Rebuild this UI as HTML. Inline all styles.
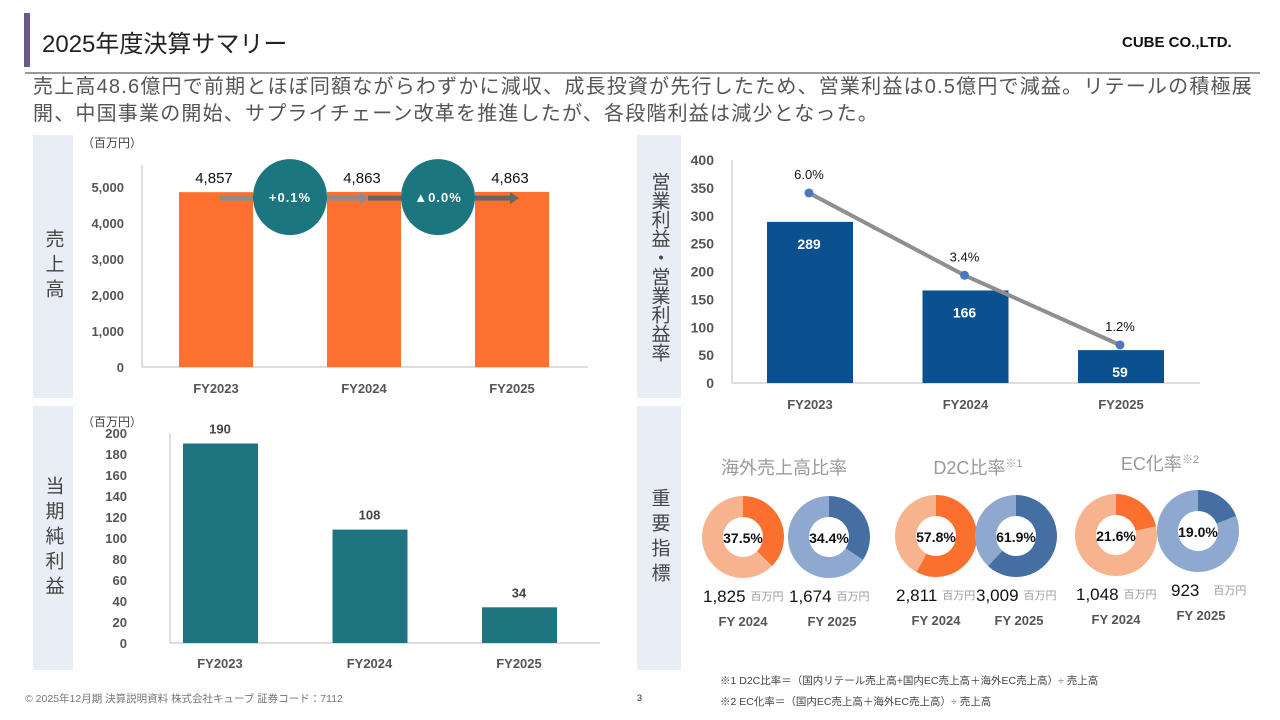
<!DOCTYPE html>
<html><head><meta charset="utf-8">
<style>
body{margin:0;width:1280px;height:720px;overflow:hidden;background:#fff;font-family:"Liberation Sans","Noto Sans CJK JP",sans-serif;position:relative}
.abs{position:absolute}
.side{position:absolute;background:#e9eef6;color:#444;font-size:19px;display:flex;align-items:center;justify-content:center;writing-mode:vertical-rl;letter-spacing:6px}
svg text{font-family:"Liberation Sans","Noto Sans CJK JP",sans-serif}
</style></head><body>
<div class="abs" style="left:24px;top:13px;width:6px;height:54px;background:#6a5a8c"></div>
<div class="abs" style="left:42px;top:24px;font-size:24px;color:#222">2025年度決算サマリー</div>
<div class="abs" style="left:1122px;top:34px;font-size:15px;font-weight:bold;color:#111">CUBE CO.,LTD.</div>
<div class="abs" style="left:25px;top:72px;width:1235px;height:2px;background:#999"></div>
<div class="abs" style="left:33px;top:74px;width:1245px;font-size:20px;letter-spacing:1.2px;line-height:27px;color:#555;white-space:nowrap">売上高48.6億円で前期とほぼ同額ながらわずかに減収、成長投資が先行したため、営業利益は0.5億円で減益。リテールの積極展<br>開、中国事業の開始、サプライチェーン改革を推進したが、各段階利益は減少となった。</div>

<div class="side" style="left:33px;top:135px;width:40px;height:263px">売上高</div>
<div class="side" style="left:33px;top:406px;width:40px;height:264px">当期純利益</div>
<div class="side" style="left:637px;top:135px;width:44px;height:263px;letter-spacing:0">営業利益・営業利益率</div>
<div class="side" style="left:637px;top:406px;width:44px;height:264px">重要指標</div>

<svg id="svg" class="abs" style="left:0;top:0" width="1280" height="720"></svg>

<div class="abs" style="left:720px;top:673px;font-size:10.5px;color:#444">※1 D2C比率＝（国内リテール売上高+国内EC売上高＋海外EC売上高）÷ 売上高</div>
<div class="abs" style="left:720px;top:694px;font-size:10.5px;color:#444">※2 EC化率＝（国内EC売上高＋海外EC売上高）÷ 売上高</div>
<div class="abs" style="left:25px;top:691px;font-size:10.5px;color:#777">© 2025年12月期 決算説明資料 株式会社キューブ 証券コード：7112</div>
<div class="abs" style="left:637px;top:693px;font-size:9px;color:#222">3</div>

<script>
const years = ["FY2023","FY2024","FY2025"];
const salesValues = [4857, 4863, 4863];
const salesTicks = [0,1000,2000,3000,4000,5000];
const salesChange = ["+0.1%","▲0.0%"];
const opValues = [289, 166, 59];
const opRates = [6.0, 3.4, 1.2];
const opTicks = [0,50,100,150,200,250,300,350,400];
const niValues = [190, 108, 34];
const niTicks = [0,20,40,60,80,100,120,140,160,180,200];
const kpiTitles = ["海外売上高比率","D2C比率","EC化率"];
const kpiNotes = ["","※1","※2"];
const kpiPercents = [37.5, 34.4, 57.8, 61.9, 21.6, 19.0];
const kpiAmounts = ["1,825","1,674","2,811","3,009","1,048","923"];
const kpiYears = ["FY 2024","FY 2025","FY 2024","FY 2025","FY 2024","FY 2025"];

const svg = document.getElementById('svg');
const NS = "http://www.w3.org/2000/svg";
function mk(tag, attrs, txt){const e=document.createElementNS(NS,tag);for(const k in attrs)e.setAttribute(k,attrs[k]);if(txt!==undefined)e.textContent=txt;svg.appendChild(e);return e;}
function fmt(v){return v.toLocaleString('en-US');}

// ---- Sales chart
{
 const y0=367, h=180, max=5000; const ys=v=>y0-v/max*h;
 const xc=i=>216+i*148;
 mk('line',{x1:142,y1:165,x2:142,y2:y0,stroke:'#bbb'});
 mk('line',{x1:142,y1:y0,x2:588,y2:y0,stroke:'#bbb'});
 let t=mk('text',{x:82,y:147,'font-size':12,fill:'#444'},'（百万円）');
 
 salesTicks.forEach(v=>{const e=mk('text',{x:124,y:ys(v)+5,'font-size':13,'font-weight':'bold',fill:'#555','text-anchor':'end'},fmt(v));
  });
 salesValues.forEach((v,i)=>{
  const r=mk('rect',{x:xc(i)-37,y:ys(v),width:74,height:y0-ys(v),fill:'#fd7030'});
  
  const l=mk('text',{x:xc(i)-2,y:ys(v)-9,'font-size':15,fill:'#111','text-anchor':'middle'},fmt(v));
  
  const c=mk('text',{x:xc(i),y:393,'font-size':13,'font-weight':'bold',fill:'#555','text-anchor':'middle'},years[i]);
  
 });
 const ay=ys(salesValues[0])+6;
 [[220,360,'#8c8c8c'],[368,510,'#666']].forEach((a,i)=>{
  const ln=mk('line',{x1:a[0],y1:ay,x2:a[1],y2:ay,stroke:a[2],'stroke-width':5});
  
  mk('polygon',{points:`${a[1]},${ay-6} ${a[1]+9},${ay} ${a[1]},${ay+6}`,fill:a[2]});
 });
 salesChange.forEach((s,i)=>{
  const cx=(xc(i)+xc(i+1))/2;
  const c=mk('ellipse',{cx:cx,cy:ay-1,rx:37,ry:38,fill:'#1b7680'});
  
  mk('text',{x:cx,y:ay+4,'font-size':13,'font-weight':'bold',fill:'#fff','text-anchor':'middle','letter-spacing':1},s);
 });
}

// ---- Operating income chart
{
 const y0=383, h=223, max=400, rmax=7.04; const ys=v=>y0-v/max*h; const yr=r=>y0-r/rmax*h;
 const xc=i=>810+i*155.5;
 mk('line',{x1:732,y1:160,x2:732,y2:y0,stroke:'#bbb'});
 mk('line',{x1:732,y1:y0,x2:1200,y2:y0,stroke:'#bbb'});
 opTicks.forEach(v=>{const e=mk('text',{x:714,y:ys(v)+5,'font-size':14,'font-weight':'bold',fill:'#555','text-anchor':'end'},v);
  });
 opValues.forEach((v,i)=>{
  const r=mk('rect',{x:xc(i)-43,y:ys(v),width:86,height:y0-ys(v),fill:'#0b5190'});
  
  const l=mk('text',{x:xc(i)-1,y:ys(v)+27,'font-size':14,'font-weight':'bold',fill:'#fff','text-anchor':'middle'},v);
  
  const c=mk('text',{x:xc(i),y:409,'font-size':13,'font-weight':'bold',fill:'#555','text-anchor':'middle'},years[i]);
  
 });
 const pl=mk('polyline',{points:opRates.map((r,i)=>`${xc(i)-1},${yr(r)}`).join(' '),fill:'none',stroke:'#8f8f8f','stroke-width':4});
 
 opRates.forEach((r,i)=>{
  const p=mk('circle',{cx:xc(i)-1,cy:yr(r),r:4.5,fill:'#4a78bf'});
  
  const l=mk('text',{x:xc(i)-1,y:yr(r)-14,'font-size':13,fill:'#111','text-anchor':'middle'},r.toFixed(1)+'%');
  
 });
}

// ---- Net income chart
{
 const y0=643, h=210, max=200; const ys=v=>y0-v/max*h;
 const xc=i=>220+i*149.5;
 mk('line',{x1:170,y1:433,x2:170,y2:y0,stroke:'#bbb'});
 mk('line',{x1:170,y1:y0,x2:600,y2:y0,stroke:'#bbb'});
 let t=mk('text',{x:82,y:426,'font-size':12,fill:'#444'},'（百万円）');
 
 niTicks.forEach(v=>{const e=mk('text',{x:127,y:ys(v)+5,'font-size':13,'font-weight':'bold',fill:'#555','text-anchor':'end'},v);
  });
 niValues.forEach((v,i)=>{
  const r=mk('rect',{x:xc(i)-37,y:ys(v),width:75,height:y0-ys(v),fill:'#1e7580'});
  
  const l=mk('text',{x:xc(i),y:ys(v)-10,'font-size':13,'font-weight':'bold',fill:'#444','text-anchor':'middle'},v);
  
  const c=mk('text',{x:xc(i),y:668,'font-size':13,'font-weight':'bold',fill:'#555','text-anchor':'middle'},years[i]);
  
 });
}

// ---- KPI donuts
{
 const cxs=[743,829,936,1016,1116,1198];
 const cys=[537,537,536,536,535,531];
 const titleX=[784,978,1160], titleY=[474,474,470];
 kpiTitles.forEach((s,i)=>{
  const t=mk('text',{x:titleX[i],y:titleY[i],'font-size':18,fill:'#999','text-anchor':'middle'},s);
  
  if(kpiNotes[i]){const ts=document.createElementNS(NS,'tspan');ts.setAttribute('font-size',11);ts.setAttribute('dy',-7);ts.textContent=kpiNotes[i];t.appendChild(ts);}
 });
 const R=41, r=20;
 function arc(cx,cy,a0,a1){
  const p=(a,rr)=>[cx+rr*Math.sin(a),cy-rr*Math.cos(a)];
  const lg=(a1-a0)>Math.PI?1:0;
  const [x1,y1]=p(a0,R),[x2,y2]=p(a1,R),[x3,y3]=p(a1,r),[x4,y4]=p(a0,r);
  return `M${x1},${y1}A${R},${R} 0 ${lg} 1 ${x2},${y2}L${x3},${y3}A${r},${r} 0 ${lg} 0 ${x4},${y4}Z`;
 }
 kpiPercents.forEach((pct,i)=>{
  const blue=i%2===1, cx=cxs[i], cy=cys[i];
  const a=pct/100*2*Math.PI;
  const bg=mk('path',{d:arc(cx,cy,a,2*Math.PI-0.0001),fill:blue?'#8ea8cf':'#f6b38d'});
  
  const fg=mk('path',{d:arc(cx,cy,0,a),fill:blue?'#456fa3':'#fb6f2f'});
  
  const l=mk('text',{x:cx,y:cy+6,'font-size':14,'font-weight':'bold',fill:'#111','text-anchor':'middle'},pct.toFixed(1)+'%');
  
  const am=mk('text',{x:cx-40+(i===5?13:0),y:cy+65,'font-size':17,fill:'#111'},kpiAmounts[i]);
  
  const bb=am.getBBox();
  const u=mk('text',{x:bb.x+bb.width+(i===5?14:5),y:cy+63,'font-size':11,fill:'#999'},'百万円');
  
  const y=mk('text',{x:cx+(i%2?3:0),y:cy+89,'font-size':13,'font-weight':'bold',fill:'#555','text-anchor':'middle'},kpiYears[i]);
  
 });
}
</script>
</body></html>
